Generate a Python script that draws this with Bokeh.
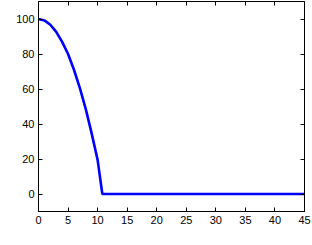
from bokeh.plotting import figure
from bokeh.models import LinearAxis, Label, FixedTicker, CustomJSTickFormatter
from bokeh.embed import file_html
from bokeh.resources import INLINE
import math

theta = [0, 1, 2, 3, 4, 5, 6, 7, 8, 9, 10, 10.8, 45]
dTb = [100, 99.2, 96.7, 92.6, 86.9, 80.0, 71.0, 60.5, 48.5, 34.5, 19.5, 0, 0]
x_ticks = [0, 5, 10, 15, 20, 25, 30, 35, 40, 45]
y_ticks = [0, 20, 40, 60, 80, 100]

p = figure(width=312, height=245, x_range=(0, 45), y_range=(-10, 110),
           output_backend="svg", toolbar_location=None,
           min_border_left=38, min_border_right=8, min_border_top=1, min_border_bottom=34)
p.xgrid.visible = False
p.ygrid.visible = False
p.outline_line_color = "black"
p.background_fill_color = "white"
p.border_fill_color = "white"

p.line(theta, dTb, line_color="#0000ff", line_width=2.6)

def style(ax, ticks, labels=True):
    ax.ticker = FixedTicker(ticks=ticks)
    ax.major_tick_in = 4
    ax.major_tick_out = 0
    ax.minor_tick_in = 0
    ax.minor_tick_out = 0
    ax.axis_line_color = "black"
    ax.major_tick_line_color = "black"
    ax.major_label_text_font = "Liberation Sans"
    ax.major_label_text_font_size = "11px"
    ax.major_label_text_color = "black"
    ax.major_label_standoff = 4
    if not labels:
        ax.formatter = CustomJSTickFormatter(code="return ''")
        ax.major_label_standoff = 0

style(p.xaxis[0], x_ticks)
style(p.yaxis[0], y_ticks)
top = LinearAxis()
style(top, x_ticks, labels=False)
p.add_layout(top, "above")
right = LinearAxis()
style(right, y_ticks, labels=False)
p.add_layout(right, "right")

serif = "Liberation Serif"
ya = math.pi / 2
xs = -22
ys = 66
def yl(text, dy, dx=0, size="14px", italic=False):
    p.add_layout(Label(x=xs + dx, y=ys + dy, x_units="screen", y_units="screen", text=text, angle=ya,
                       text_font=serif, text_font_style="italic" if italic else "normal",
                       text_font_size=size, text_baseline="alphabetic", text_align="left"))
yl("Δ", 0)
yl("T", 10, italic=True)
yl("b", 18.5, dx=3, size="10px")
yl("(", 28)
yl("μ", 32, italic=True)
yl("K)", 40)

yb = -31
x0 = 111
def xlab(text, dx, dy=0, size="14px", italic=False):
    p.add_layout(Label(x=x0 + dx, y=yb + dy, x_units="screen", y_units="screen", text=text,
                       text_font=serif, text_font_style="italic" if italic else "normal",
                       text_font_size=size, text_baseline="alphabetic", text_align="left"))
xlab("θ", 0, italic=True)
xlab("crit", 8, dy=-3, size="10.5px")
xlab("(°)", 32)

open("out.html", "w").write(file_html(p, INLINE))
